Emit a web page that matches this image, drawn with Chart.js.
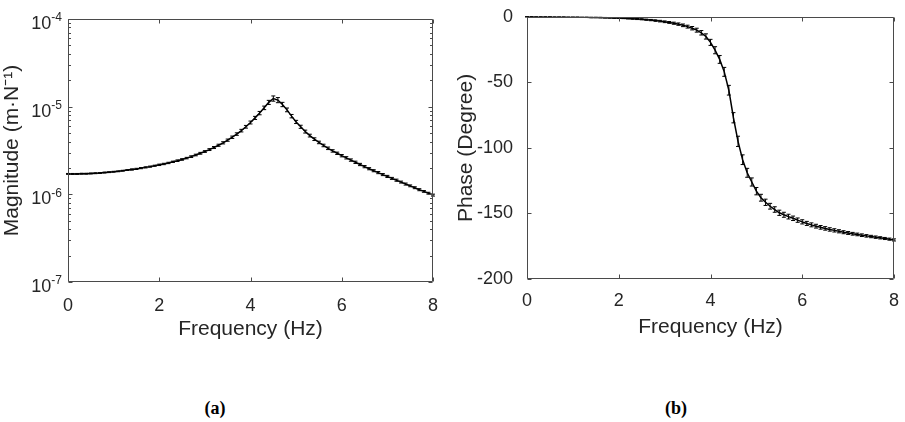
<!DOCTYPE html>
<html><head><meta charset="utf-8">
<script src="https://cdn.jsdelivr.net/npm/chart.js@4"></script>
<style>
html,body{margin:0;padding:0;background:#fff;width:905px;height:422px;overflow:hidden;}
.c{position:absolute;top:0;height:350px;}
#wa{left:0;width:450px;} #wb{left:450px;width:455px;}
.cap{position:absolute;top:398px;font:bold 18px/20px "Liberation Serif","Times New Roman",serif;color:#000;transform:translateX(-50%);}
</style></head><body>
<div id="wa" class="c"><canvas id="ca"></canvas></div>
<div id="wb" class="c"><canvas id="cb"></canvas></div>
<div class="cap" style="left:215px">(a)</div>
<div class="cap" style="left:676px">(b)</div>
<script>
// ---------- data ----------
const frequency = [0,0.1,0.2,0.3,0.4,0.5,0.6,0.7,0.8,0.9,1,1.1,1.2,1.3,1.4,1.5,1.6,1.7,1.8,1.9,2,2.1,2.2,2.3,2.4,2.5,2.6,2.7,2.8,2.9,3,3.1,3.2,3.3,3.4,3.5,3.6,3.7,3.8,3.9,4,4.1,4.2,4.3,4.4,4.5,4.6,4.7,4.8,4.9,5,5.1,5.2,5.3,5.4,5.5,5.6,5.7,5.8,5.9,6,6.1,6.2,6.3,6.4,6.5,6.6,6.7,6.8,6.9,7,7.1,7.2,7.3,7.4,7.5,7.6,7.7,7.8,7.9,8];
// magnitude in units of 1e-6 m/N
const magnitudeE6 = [1.71,1.71,1.71,1.72,1.72,1.73,1.74,1.75,1.77,1.79,1.81,1.83,1.86,1.89,1.92,1.95,1.99,2.03,2.07,2.12,2.17,2.22,2.28,2.35,2.42,2.50,2.59,2.69,2.81,2.94,3.08,3.24,3.42,3.63,3.87,4.15,4.48,4.87,5.33,5.90,6.60,7.45,8.45,9.70,11.2,12.4,11.9,10.6,9.2,7.8,6.7,5.9,5.2,4.68,4.26,3.91,3.61,3.35,3.13,2.94,2.76,2.61,2.46,2.32,2.19,2.07,1.96,1.86,1.77,1.68,1.60,1.52,1.45,1.38,1.31,1.25,1.19,1.13,1.08,1.03,0.98];
const magnitudeErrE6 = [0.02,0.02,0.02,0.02,0.02,0.02,0.02,0.02,0.02,0.02,0.02,0.02,0.02,0.02,0.03,0.03,0.03,0.03,0.03,0.03,0.04,0.04,0.04,0.04,0.05,0.05,0.05,0.06,0.06,0.07,0.07,0.08,0.09,0.10,0.11,0.12,0.14,0.16,0.18,0.21,0.25,0.30,0.37,0.45,0.60,0.85,0.80,0.60,0.45,0.35,0.28,0.24,0.20,0.17,0.15,0.13,0.12,0.11,0.10,0.09,0.085,0.08,0.075,0.07,0.065,0.06,0.055,0.05,0.05,0.045,0.045,0.04,0.04,0.035,0.035,0.03,0.03,0.03,0.025,0.025,0.025];
const phase = [0,0,-0.1,-0.1,-0.1,-0.1,-0.2,-0.2,-0.2,-0.3,-0.3,-0.3,-0.4,-0.4,-0.5,-0.5,-0.6,-0.7,-0.8,-0.9,-1.0,-1.1,-1.3,-1.5,-1.7,-1.9,-2.2,-2.5,-2.9,-3.3,-3.8,-4.3,-4.9,-5.6,-6.5,-7.5,-8.7,-10.2,-12.2,-15.0,-19.5,-25.5,-32.5,-42,-56,-77,-95,-109,-119,-126,-133,-138,-141.5,-144.5,-147,-149.5,-151,-152.4,-153.7,-155.1,-156.4,-157.6,-158.7,-159.7,-160.6,-161.4,-162.2,-162.9,-163.6,-164.3,-164.9,-165.5,-166.0,-166.6,-167.1,-167.6,-168.1,-168.6,-169.1,-169.6,-170.2];
const phaseErr = [0.1,0.1,0.1,0.1,0.1,0.1,0.1,0.1,0.1,0.1,0.1,0.1,0.1,0.15,0.15,0.15,0.2,0.2,0.2,0.25,0.25,0.3,0.3,0.35,0.4,0.4,0.45,0.5,0.55,0.6,0.65,0.7,0.8,0.9,1.0,1.1,1.3,1.5,1.7,2.0,2.3,2.7,3.0,3.4,3.7,3.9,3.9,3.7,3.4,3.1,2.8,2.6,2.4,2.2,2.1,2.0,1.9,1.8,1.7,1.65,1.6,1.55,1.5,1.45,1.4,1.35,1.3,1.25,1.2,1.15,1.1,1.05,1.0,1.0,0.95,0.9,0.9,0.85,0.8,0.8,0.8];
const xTicks = [0,2,4,6,8];
const magTickExponents = ['-7','-6','-5','-4'];
const phaseTicks = [-200,-150,-100,-50,0];

// ---------- styling ----------
const TXT = '#262626';
const AX = '#4a4a4a';
const SANS = '"Liberation Sans", Arial, sans-serif';
Chart.defaults.font.family = SANS;
Chart.defaults.color = TXT;

const errorBars = {
  id:'errorBars',
  afterDatasetsDraw(chart, args, opts){
    const {ctx} = chart; const xs = chart.scales.x, ys = chart.scales.y;
    const vals = opts.values, errs = opts.errors;
    ctx.save(); ctx.strokeStyle = '#000'; ctx.lineWidth = 1;
    ctx.beginPath();
    for (let i=0;i<frequency.length;i++){
      const x = xs.getPixelForValue(frequency[i]);
      const y1 = ys.getPixelForValue(vals[i]-errs[i]);
      const y2 = ys.getPixelForValue(vals[i]+errs[i]);
      ctx.moveTo(x,y1); ctx.lineTo(x,y2);
      ctx.moveTo(x-2,y1); ctx.lineTo(x+2,y1);
      ctx.moveTo(x-2,y2); ctx.lineTo(x+2,y2);
    }
    ctx.stroke(); ctx.restore();
  }
};

const boxAxes = {
  id:'boxAxes',
  afterDraw(chart, args, opts){
    const {ctx, chartArea:a} = chart; const xs = chart.scales.x, ys = chart.scales.y;
    const L = Math.round(a.left)+0.5, R = Math.round(a.right)-0.5, T = Math.round(a.top)+0.5, B = Math.round(a.bottom)-0.5;
    ctx.save(); ctx.strokeStyle = AX; ctx.lineWidth = 1;
    ctx.beginPath(); ctx.rect(L,T,R-L,B-T);
    const tl = 4;
    xTicks.forEach(v=>{ const p = Math.round(xs.getPixelForValue(v))+0.5; ctx.moveTo(p,B); ctx.lineTo(p,B-tl); ctx.moveTo(p,T); ctx.lineTo(p,T+tl); });
    (opts.yMajor||[]).forEach(v=>{ const p = Math.round(ys.getPixelForValue(v))+0.5; ctx.moveTo(L,p); ctx.lineTo(L+tl,p); ctx.moveTo(R,p); ctx.lineTo(R-tl,p); });
    (opts.yMinor||[]).forEach(v=>{ const p = Math.round(ys.getPixelForValue(v))+0.5; ctx.moveTo(L,p); ctx.lineTo(L+2.5,p); ctx.moveTo(R,p); ctx.lineTo(R-2.5,p); });
    ctx.stroke();
    if (opts.logLabels){
      const rx = a.left - 6;
      magTickExponents.forEach(e=>{
        const p = ys.getPixelForValue(Math.pow(10, Number(e)));
        ctx.fillStyle = TXT; ctx.textBaseline = 'middle'; ctx.textAlign = 'right';
        ctx.font = '12px ' + SANS;
        const ew = ctx.measureText(e).width;
        ctx.fillText(e, rx, p-1);
        ctx.font = '18px ' + SANS;
        ctx.fillText('10', rx-ew, p+5);
      });
    }
    ctx.restore();
  }
};

const magMajor = magTickExponents.map(e=>Math.pow(10,Number(e)));
const magMinor = [];
[-7,-6,-5].forEach(e=>{ for(let m=2;m<=9;m++) magMinor.push(m*Math.pow(10,e)); });

const xScale = (tickPad, height, titlePad) => ({
  type:'linear', min:0, max:8,
  afterBuildTicks: s => { s.ticks = xTicks.map(v=>({value:v})); },
  ticks:{ font:{size:18}, color:TXT, padding:tickPad, maxRotation:0, autoSkip:false },
  grid:{ display:false }, border:{ display:false },
  title:{ display:true, text:'Frequency (Hz)', color:TXT, font:{size:21}, padding:{top:0,bottom:titlePad} },
  afterFit: s => { s.height = height; }
});

new Chart(document.getElementById('ca'), {
  type:'line',
  data:{ datasets:[{ data: frequency.map((f,i)=>({x:f, y:magnitudeE6[i]*1e-6})), borderColor:'#000', borderWidth:1.5, pointRadius:0, tension:0, fill:false }] },
  options:{
    responsive:true, maintainAspectRatio:false, animation:false, devicePixelRatio:1,
    layout:{ padding:{ top:19, right:17, left:0, bottom:0 } },
    plugins:{ legend:{display:false}, tooltip:{enabled:false},
      errorBars:{ values: magnitudeE6.map(v=>v*1e-6), errors: magnitudeErrE6.map(v=>v*1e-6) },
      boxAxes:{ yMajor: magMajor, yMinor: magMinor, logLabels:true } },
    scales:{
      x: xScale(5, 68, 8),
      y: { type:'logarithmic', min:1e-7, max:1e-4,
        afterBuildTicks: s => { s.ticks = magMajor.map(v=>({value:v})); },
        ticks:{ display:false }, grid:{display:false}, border:{display:false},
        title:{ display:true, text:'Magnitude (m·N⁻¹)', color:TXT, font:{size:21}, padding:{top:0,bottom:0} },
        afterFit: s => { s.width = 68; } }
    }
  },
  plugins:[errorBars, boxAxes]
});

new Chart(document.getElementById('cb'), {
  type:'line',
  data:{ datasets:[{ data: frequency.map((f,i)=>({x:f, y:phase[i]})), borderColor:'#000', borderWidth:1.5, pointRadius:0, tension:0, fill:false }] },
  options:{
    responsive:true, maintainAspectRatio:false, animation:false, devicePixelRatio:1,
    layout:{ padding:{ top:15, right:11, left:0, bottom:0 } },
    plugins:{ legend:{display:false}, tooltip:{enabled:false},
      errorBars:{ values: phase, errors: phaseErr },
      boxAxes:{ yMajor: phaseTicks, yMinor: [], logLabels:false } },
    scales:{
      x: xScale(3, 71, 10),
      y: { type:'linear', min:-200, max:0,
        afterBuildTicks: s => { s.ticks = phaseTicks.map(v=>({value:v})); },
        ticks:{ font:{size:18}, color:TXT, padding:6, autoSkip:false },
        grid:{display:false}, border:{display:false},
        title:{ display:true, text:'Phase (Degree)', color:TXT, font:{size:21}, padding:{top:4,bottom:0} },
        afterFit: s => { s.width = 77; } }
    }
  },
  plugins:[errorBars, boxAxes]
});
</script>
</body></html>
